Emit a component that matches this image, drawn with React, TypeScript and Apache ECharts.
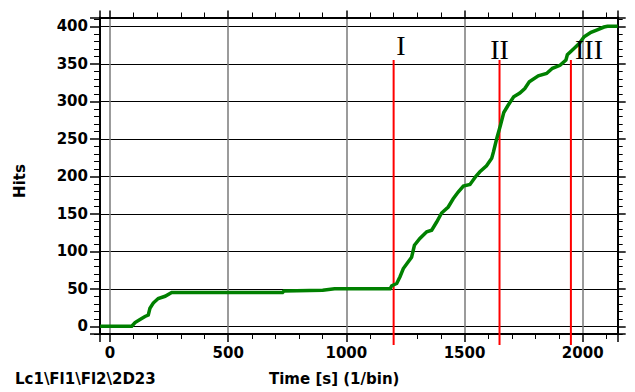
import React, { useEffect, useRef } from "react";
import * as echarts from "echarts";

// Cumulative hits vs time (s)
const hitTimes: number[] = [
  -42, 92, 106, 127, 148, 162, 169, 183, 204, 233, 261, 730, 736, 900, 950, 1185,
  1192, 1213, 1227, 1241, 1262, 1276, 1288, 1311, 1340, 1361, 1382, 1403, 1431, 1452,
  1473, 1495, 1523, 1548, 1565, 1593, 1615, 1622, 1636, 1652, 1666, 1685, 1708, 1734,
  1755, 1774, 1812, 1847, 1872, 1904, 1929, 1935, 1962, 1985, 2006, 2035, 2059, 2090,
  2105, 2148,
];
const hitCounts: number[] = [
  0, 0, 5, 9, 13, 15, 24, 31, 37, 40, 45, 45, 47, 48, 50, 50,
  54, 57, 66, 77, 86, 92, 108, 117, 126, 128, 139, 151, 159, 170,
  179, 187, 189, 200, 206, 214, 224, 232, 250, 268, 285, 295, 306, 311,
  317, 326, 334, 337, 344, 348, 355, 362, 370, 377, 386, 392, 395, 399,
  400, 400,
];

// Event markers
const markerTimes: number[] = [1200, 1648, 1950];
const markerLabels: string[] = ["I", "II", "III"];
const markerTop = 355;
const markerBottom = -25;

const xMin = -42.3;
const xMax = 2148;
const yMin = -10.3;
const yMax = 411.7;

const titleY = "Hits";
const titleX = "Time [s] (1/bin)";
const sourceLabel = "Lc1\\Fl1\\Fl2\\2D23";

const FONT = "DejaVu Sans";

export default function App() {
  const ref = useRef<HTMLDivElement>(null);

  useEffect(() => {
    if (!ref.current) return;
    const chart = echarts.init(ref.current, undefined, { renderer: "svg" });

    const hits = hitTimes.map((t, i) => [t, hitCounts[i]]);

    const markerSeries = markerTimes.map((t) => ({
      type: "line" as const,
      data: [
        [t, markerTop],
        [t, markerBottom],
      ],
      symbol: "none",
      clip: false,
      silent: true,
      z: 3,
      lineStyle: { color: "#ff0000", width: 2 },
    }));

    const labelPos: [number, number][] = [
      [401, 45],
      [499.5, 49.5],
      [589, 49.5],
    ];

    const tickLabel = {
      show: true,
      showMinLabel: false,
      showMaxLabel: false,
      color: "#000",
      fontFamily: FONT,
      fontWeight: "bold",
      fontSize: 15,
      formatter: (v: number) => String(v),
    };

    const option: any = {
      animation: false,
      backgroundColor: "#ffffff",
      grid: { left: 100, right: 17.3, top: 17.5, bottom: 58, containLabel: false },
      xAxis: [
        {
          type: "value",
          position: "bottom",
          min: xMin,
          max: xMax,
          minInterval: 500,
          maxInterval: 500,
          axisLine: { show: true, onZero: false, lineStyle: { color: "#000", width: 2 } },
          axisTick: { show: true, length: 8, lineStyle: { color: "#000", width: 1.5 } },
          minorTick: { show: true, splitNumber: 5, length: 5, lineStyle: { color: "#000", width: 1 } },
          axisLabel: { ...tickLabel, margin: 11 },
          splitLine: {
            show: true,
            showMinLine: false,
            showMaxLine: false,
            lineStyle: { color: "#7a7a7a", width: 1.5 },
          },
        },
        {
          type: "value",
          position: "top",
          min: xMin,
          max: xMax,
          minInterval: 500,
          maxInterval: 500,
          axisLine: { show: true, onZero: false, lineStyle: { color: "#000", width: 2 } },
          axisTick: { show: true, length: 7, lineStyle: { color: "#000", width: 1.5 } },
          minorTick: { show: true, splitNumber: 5, length: 5, lineStyle: { color: "#000", width: 1 } },
          axisLabel: { show: false },
          splitLine: { show: false },
        },
      ],
      yAxis: [
        {
          type: "value",
          position: "left",
          min: yMin,
          max: yMax,
          minInterval: 50,
          maxInterval: 50,
          axisLine: { show: true, onZero: false, lineStyle: { color: "#000", width: 2 } },
          axisTick: { show: true, length: 10, lineStyle: { color: "#000", width: 1.5 } },
          minorTick: { show: true, splitNumber: 5, length: 6, lineStyle: { color: "#000", width: 1 } },
          axisLabel: { ...tickLabel, margin: 12 },
          splitLine: {
            show: true,
            showMinLine: false,
            showMaxLine: false,
            lineStyle: { color: "#000", width: 1 },
          },
        },
        {
          type: "value",
          position: "right",
          min: yMin,
          max: yMax,
          minInterval: 50,
          maxInterval: 50,
          axisLine: { show: true, onZero: false, lineStyle: { color: "#000", width: 2 } },
          axisTick: { show: true, length: 8, lineStyle: { color: "#000", width: 1.5 } },
          minorTick: { show: true, splitNumber: 5, length: 5, lineStyle: { color: "#000", width: 1 } },
          axisLabel: { show: false },
          splitLine: { show: false },
        },
      ],
      series: [
        ...markerSeries,
        {
          type: "line",
          data: hits,
          symbol: "none",
          z: 5,
          lineStyle: { color: "#008000", width: 3.5, join: "miter" },
        },
      ],
      graphic: [
        ...markerLabels.map((txt, i) => ({
          type: "text",
          x: labelPos[i][0],
          y: labelPos[i][1],
          z: 10,
          style: {
            text: txt,
            fontFamily: "Liberation Serif",
            fontSize: 28,
            fill: "#000",
            align: "center",
            verticalAlign: "middle",
          },
        })),
        {
          type: "text",
          x: 20,
          y: 181,
          rotation: Math.PI / 2,
          style: {
            text: titleY,
            fontFamily: FONT,
            fontWeight: "bold",
            fontSize: 15,
            fill: "#000",
            align: "center",
            verticalAlign: "middle",
          },
        },
        {
          type: "text",
          x: 269,
          y: 379,
          style: {
            text: titleX,
            fontFamily: FONT,
            fontWeight: "bold",
            fontSize: 15,
            fill: "#000",
            align: "left",
            verticalAlign: "middle",
          },
        },
        {
          type: "text",
          x: 15,
          y: 379,
          style: {
            text: sourceLabel,
            fontFamily: FONT,
            fontWeight: "bold",
            fontSize: 15,
            fill: "#000",
            align: "left",
            verticalAlign: "middle",
          },
        },
      ],
    };

    chart.setOption(option);
    return () => chart.dispose();
  }, []);

  return (
    <div
      ref={ref}
      style={{ position: "fixed", left: 0, top: 0, width: 635, height: 392, background: "#fff" }}
    />
  );
}
